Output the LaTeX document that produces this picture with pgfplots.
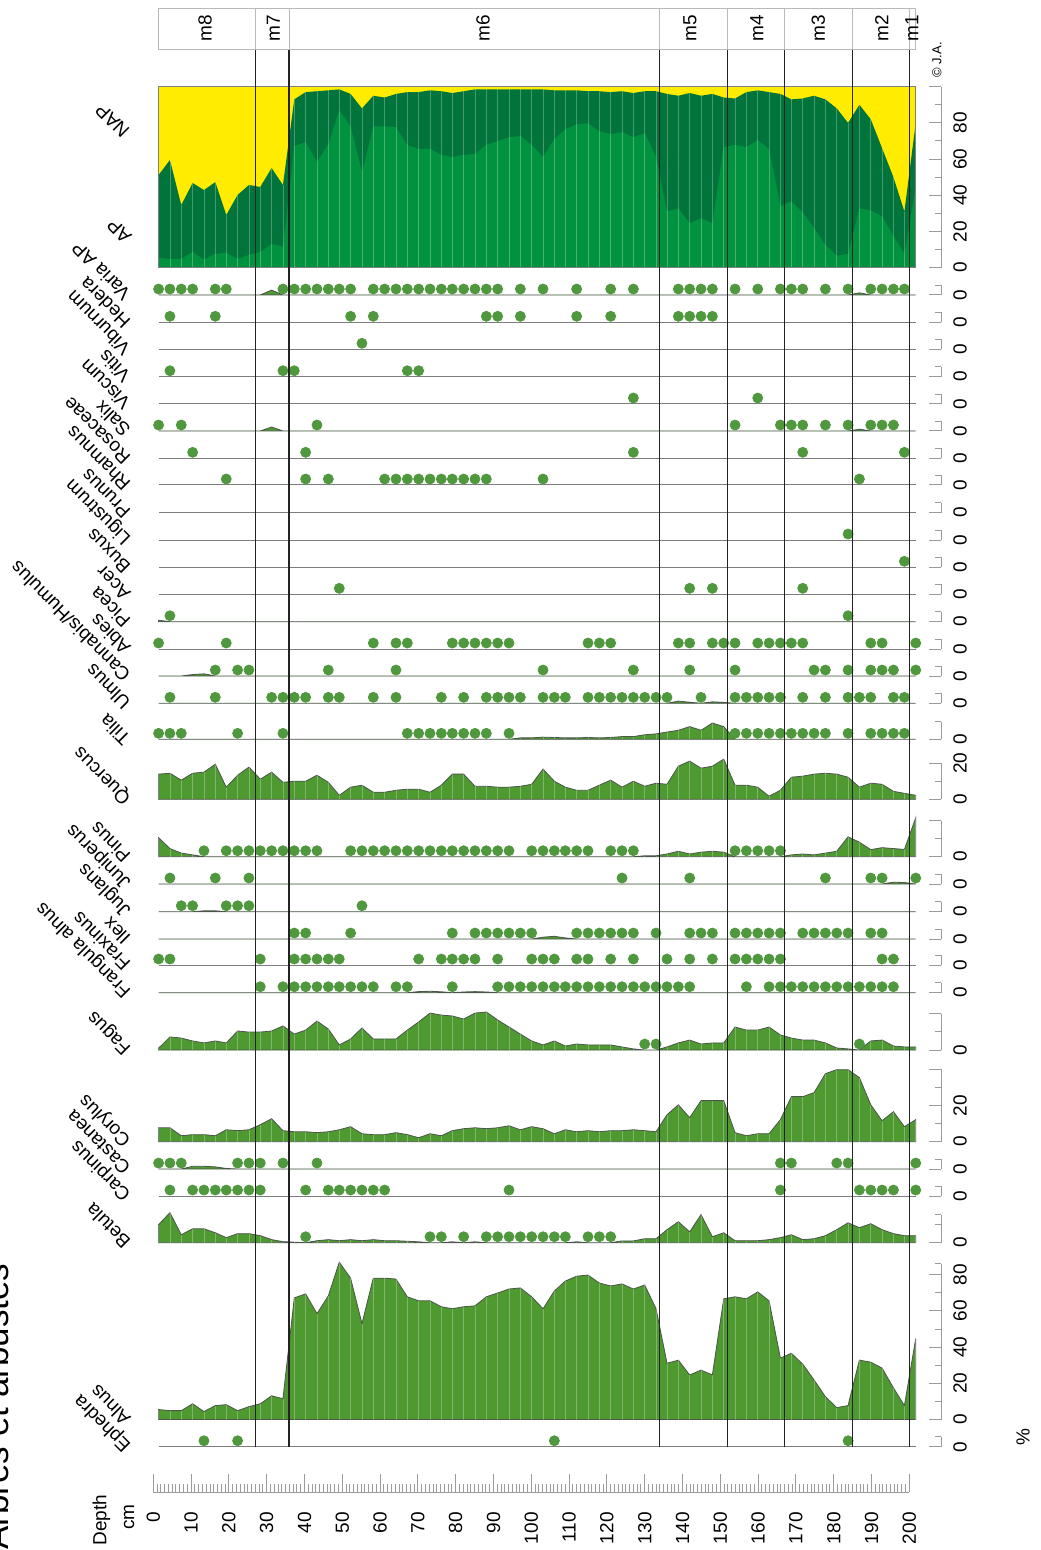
\documentclass[border=0pt]{standalone}
\usepackage{fontspec}
\setmainfont{Liberation Sans}
\usepackage{pgfplots}
\pgfplotsset{compat=1.18}
\usepackage{pgfplotstable}

\definecolor{areagreen}{RGB}{78,154,48}
\definecolor{dotgreen}{RGB}{80,152,62}
\definecolor{outline}{RGB}{75,85,75}
\definecolor{apdark}{RGB}{0,116,58}
\definecolor{aplight}{RGB}{0,146,62}
\definecolor{napyellow}{RGB}{255,236,0}
\definecolor{tickgray}{RGB}{155,155,155}
\definecolor{basegray}{RGB}{125,125,125}
\definecolor{zoneline}{RGB}{35,35,35}

\newcommand\ticklab{\fontsize{9.5}{11}\selectfont}
\newcommand\taxlab{\fontsize{9.5}{11}\selectfont}

\pgfplotstableread{
d ap alnus betula corylus fagus quercus pinus tilia varia salix cannabis ulmus juniperus juglans ilex frangula castanea picea
1.4 51.2 5.5 10 7.7 1 13.9 10.5 0 0 0 0 0 0 0 0 0 0 0.8
4.4 59.5 4.9 16.6 7.7 7.2 14.4 4.5 0 0 0 0 0 0 0 0 0 0 0
7.4 34.6 4.9 4.4 3.3 6.6 10.6 2 0 0 0 0 0 0 0 0 0 0 0
10.4 46.8 8.7 7.7 3.9 5 14.4 1 0 0 0 0.8 0 0 0 0 0 1.5 0
13.4 42.9 4.4 7.7 3.9 3.9 15 0 0 0 0 1.2 0 0 0.5 0 0 1.5 0
16.4 47.3 7.7 5.5 3.3 5 19.4 0 0 0 0 0 0 0 0.5 0 0 1.2 0
19.3 29.1 8.2 2.8 6.6 3.9 6.7 0 0 0 0 0 0 0 0 0 0 0.3 0
22.3 40.2 4.9 5 6.1 10.5 13.3 0 0 0 0 0 0 0 0 0 0 0 0
25.3 45.7 7.1 5 6.6 9.9 17.8 0 0 0 0 0 0 0 0 0 0 0 0
28.3 44.6 8.7 3.9 9.4 9.9 11.1 0 0 0 0 0 0 0 0 0 0 0 0
31.3 55.1 13.1 1.7 12.7 10.5 15 0 0 2.7 2.2 0 0 0 0 0 0 0 0
34.3 45.7 11.5 0.6 6.1 13.3 9.4 0 0 0 0 0 0 0 0 0 0 0 0
37.3 93 67.2 0.3 5.5 8.8 10 0 0 0 0 0 0 0 0 0 0 0 0
40.3 97 69.4 0 5.5 11 10 0 0 0 0 0 0 0 0 0 0 0 0
43.3 97.5 58.5 1.1 5 16 13.3 0 0 0 0 0 0 0 0 0 0 0 0
46.3 98 68.3 1.7 5.5 11.6 9.4 0 0 0 0 0 0 0 0 0 0 0 0
49.2 98.5 86.9 1.1 6.6 2.8 2.2 0 0 0 0 0 0 0 0 0 0 0 0
52.2 96 78.1 1.7 8.3 6.1 6.7 0 0 0 0 0 0 0 0 0 0 0 0
55.2 88 53 1.1 4.4 12.2 7.8 0 0 0 0 0 0 0 0 0 0 0 0
58.2 95 78.1 1.7 3.9 6.1 3.9 0 0 0 0 0 0 0 0 0 0 0 0
61.2 94 78.1 1.1 3.9 6.1 3.9 0 0 0 0 0 0 0 0 0 0 0 0
64.2 96 77.6 1.1 5 6.1 5 0 0 0 0 0 0 0 0 0 0 0 0
67.2 97 67.8 0.8 3.9 11 5.6 0 0 0 0 0 0 0 0 0 0 0 0
70.2 97 65.6 0.5 2.2 15.5 5.6 0 0 0 0 0 0 0 0 0 0.6 0 0
73.2 98 65.6 0 4.4 20.4 3.9 0 0 0 0 0 0 0 0 0 0.8 0 0
76.2 97.5 62.3 0 3.3 19.3 7.8 0 0 0 0 0 0 0 0 0 0.5 0 0
79.1 96.5 61.2 0.5 6.1 18.8 13.9 0 0 0 0 0 0 0 0 0 0 0 0
82.1 97.5 62.3 0 7.2 17.1 13.9 0 0 0 0 0 0 0 0 0 0.4 0 0
85.1 98.5 62.8 0.5 7.7 20.4 7.2 0 0 0 0 0 0 0 0 0 0.6 0 0
88.1 98.5 67.8 0 7.2 21 7.2 0 0 0 0 0 0 0 0 0 0.4 0 0
91.1 98.5 69.9 0 7.7 16.6 6.7 0 0 0 0 0 0 0 0 0 0 0 0
94.1 98.5 72.1 0 8.8 12.7 6.7 0 0 0 0 0 0 0 0 0 0 0 0
97.1 98.5 72.7 0 6.6 8.8 7.2 0 0.8 0 0 0 0 0 0 0 0 0 0
100.1 98.5 67.8 0 8.3 5 8.3 0 0.8 0 0 0 0 0 0 0 0 0 0
103.1 98.5 61.2 0 7.2 2.8 16.7 0 1.2 0 0 0 0 0 0 1 0 0 0
106.1 98 71 0 4.4 5 10 0 1 0 0 0 0 0 0 1.5 0 0 0
109.0 98 76.5 0 6.6 2.2 6.7 0 0.8 0 0 0 0 0 0 0.6 0 0 0
112.0 98 79.2 0.5 5.5 3.3 5 0 0.8 0 0 0 0 0 0 0 0 0 0
115.0 97.5 79.8 0 6.1 2.8 5 0 1 0 0 0 0 0 0 0 0 0 0
118.0 97.5 75.4 0 5.5 2.8 7.8 0 0.8 0 0 0 0 0 0 0 0 0 0
121.0 97 73.8 0 6.1 2.8 10.6 0 1 0 0 0 0 0 0 0 0 0 0
124.0 97.5 74.9 1 6.1 1.7 6.7 0 1.5 0 0 0 0 0 0 0 0 0 0
127.0 96.5 72.1 1 6.6 0.6 10 0 1.5 0 0 0 0 0 0 0 0 0 0
130.0 97.5 74.3 2.2 6.1 0 7.2 0.5 2.5 0 0 0 0 0 0 0 0 0 0
133.0 97.5 61.2 2.2 5.5 0 8.9 0.5 3 0 0 0 0 0 0 0 0 0 0
135.9 96 31.1 7.2 14.9 1.7 8.3 1.5 4 0 0 0 0 0 0 0 0 0 0
138.9 95 32.8 11.6 20.4 3.9 18.3 3 5 0 0 0 1.2 0 0 0 0 0 0
141.9 96.5 24.6 6 13.3 5.5 21.1 1.5 7 0 0 0 0.6 0 0 0 0 0 0
144.9 95 27.3 15.5 22.7 3.3 17.2 2.5 5 0 0 0 0 0 0 0 0 0 0
147.9 96 24.6 3.3 22.7 3.9 18.3 3 9 0 0 0 0.8 0 0 0 0 0 0
150.9 94 66.7 5.5 22.7 3.9 22.2 2.5 7 0 0 0 0.5 0 0 0 0 0 0
153.9 93.5 67.8 1.1 5 12.7 7.8 0 0 0 0 0 0 0 0 0 0 0 0
156.9 97 66.7 1.1 3.3 11 7.8 0 0 0 0 0 0 0 0 0 0 0 0
159.9 98 70.5 1.1 4.4 11 6.7 0 0 0 0 0 0 0 0 0 0 0 0
162.9 97 65.6 1.7 4.4 12.7 1.7 0 0 0 0 0 0 0 0 0 0 0 0
165.9 96 33.9 2.8 12.2 8.3 5 0 0 0 0 0 0 0 0 0 0 0 0
168.8 93 36.6 4.4 24.9 6.6 12.2 1 0 0 0 0 0 0 0 0 0 0 0
171.8 93.5 30.6 1.7 24.9 5.5 12.8 1.5 0 0 0 0 0 0 0 0 0 0 0
174.8 95 21.9 2.2 27.1 5.5 13.9 1 0 0 0 0 0 0 0 0 0 0 0
177.8 93 12.6 3.9 37.6 3.9 14.4 2 0 0 0 0 0 0 0 0 0 0 0
180.8 88 6.6 7.2 39.8 1.1 13.9 3 0 0 0 0 0 0 0 0 0 0 0
183.8 80 7.7 11 39.8 0.6 12.2 11 0 0 0 0 0 0 0 0 0 0 0
186.8 90 32.8 8.3 35.4 0 6.7 8 0 1.2 1 0 0 0 0 0 0 0 0
189.8 82 31.7 10.5 20.4 5 8.9 3.9 0 0 0 0 0 0 0 0 0 0 0
192.8 66 28.4 7.2 11.6 5.5 8.3 5 0 0 0 0 0 0 0 0 0 0 0
195.8 50 17.5 5 16.6 2.2 4.4 4.5 0 0 0 0 0 1 0 0 0 0 0
198.7 31 7.7 3.9 8.3 1.7 3.3 4 0 0 0 0 0 0.8 0 0 0 0 0
201.7 80 44.8 3.9 12.2 1.7 2.2 21.5 0 0 0 0 0 0 0 0 0 0 0
}\data

\pgfplotsset{
  panel/.style={
    anchor=south west, scale only axis, clip=false,
    x=1.89pt, y=0.905pt,
    xmin=0, xmax=208.4, ymin=0,
    axis x line=none,
    axis y line*=right,
    ytick pos=right, yticklabel pos=right,
    tick align=inside,
    y axis line style={draw=tickgray, line width=0.5pt},
    major tick length=6pt, minor tick length=3pt,
    every tick/.style={draw=tickgray, line width=0.5pt},
    /pgf/number format/assume math mode=true,
    yticklabel style={font=\ticklab, xshift=6pt, rotate=90, anchor=north, inner sep=0pt},
  },
  dotrow/.style={panel, ymax=5.5, ytick={0}, minor ytick={5.5}},
  dots/.style={only marks, color=dotgreen, mark=*, mark size=2.5pt, mark options={draw=none, fill=dotgreen}},
  area/.style={draw=outline, line width=0.4pt, fill=areagreen, mark=none},
  comb/.style={ycomb, draw=white, opacity=0.28, line width=0.3pt, mark=none},
  base/.style={draw=basegray, line width=0.5pt, mark=none},
}

\newcommand{\dotpanel}[2]{%
\begin{axis}[dotrow, at={(76.65pt,-#1pt)}]
\addplot[base] coordinates {(1.4,0) (201.7,0)};
\addplot[dots] coordinates {#2};
\end{axis}}

\newcommand{\dotcurve}[3]{%
\begin{axis}[dotrow, at={(76.65pt,-#1pt)}]
\addplot[area] table[x=d,y=#2]{\data} \closedcycle;
\addplot[dots] coordinates {#3};
\end{axis}}

\begin{document}
\begin{tikzpicture}
\path[use as bounding box] (0pt,0pt) rectangle (520pt,-775pt);

% ---------- AP / NAP ----------
\begin{axis}[panel, at={(76.65pt,-133.85pt)}, ymax=100,
  ytick={0,20,...,100}, yticklabels={0,20,40,60,80,{}}, minor ytick={10,30,...,90}]
\addplot[fill=napyellow, draw=none] coordinates {(1.4,100) (201.7,100)} \closedcycle;
\addplot[fill=apdark, draw=none] table[x=d,y=ap]{\data} \closedcycle;
\addplot[fill=aplight, draw=none] table[x=d,y=alnus]{\data} \closedcycle;
\addplot[comb] table[x=d,y=ap]{\data};
\addplot[draw=gray, line width=0.4pt] coordinates {(1.4,0) (1.4,100) (201.7,100) (201.7,0) (1.4,0)};
\end{axis}

% ---------- dot rows (top part) ----------
\dotcurve{147.5}{varia}{(1.4,3.3) (4.4,3.3) (7.4,3.3) (10.4,3.3) (16.4,3.3) (19.3,3.3) (34.3,3.3) (37.3,3.3) (40.3,3.3) (43.3,3.3) (46.3,3.3) (49.2,3.3) (52.2,3.3) (58.2,3.3) (61.2,3.3) (64.2,3.3) (67.2,3.3) (70.2,3.3) (73.2,3.3) (76.2,3.3) (79.1,3.3) (82.1,3.3) (85.1,3.3) (88.1,3.3) (91.1,3.3) (97.1,3.3) (103.1,3.3) (112.0,3.3) (121.0,3.3) (127.0,3.3) (138.9,3.3) (141.9,3.3) (144.9,3.3) (147.9,3.3) (153.9,3.3) (159.9,3.3) (165.9,3.3) (168.8,3.3) (171.8,3.3) (177.8,3.3) (183.8,3.3) (189.8,3.3) (192.8,3.3) (195.8,3.3) (198.7,3.3)}
\dotpanel{161.15}{(4.4,3.3) (16.4,3.3) (52.2,3.3) (58.2,3.3) (88.1,3.3) (91.1,3.3) (97.1,3.3) (112.0,3.3) (121.0,3.3) (138.9,3.3) (141.9,3.3) (144.9,3.3) (147.9,3.3)}
\dotpanel{174.65}{(55.2,3.3)}
\dotpanel{188.35}{(4.4,3.3) (34.3,3.3) (37.3,3.3) (67.2,3.3) (70.2,3.3)}
\dotpanel{202}{(127.0,3.3) (159.9,3.3)}
\dotcurve{215.5}{salix}{(1.4,3.3) (7.4,3.3) (43.3,3.3) (153.9,3.3) (165.9,3.3) (168.8,3.3) (171.8,3.3) (177.8,3.3) (183.8,3.3) (189.8,3.3) (192.8,3.3) (195.8,3.3)}
\dotpanel{229.15}{(10.4,3.3) (40.3,3.3) (127.0,3.3) (171.8,3.3) (198.7,3.3)}
\dotpanel{242.5}{(19.3,3.3) (40.3,3.3) (46.3,3.3) (61.2,3.3) (64.2,3.3) (67.2,3.3) (70.2,3.3) (73.2,3.3) (76.2,3.3) (79.1,3.3) (82.1,3.3) (85.1,3.3) (88.1,3.3) (103.1,3.3) (186.8,3.3)}
\begin{axis}[dotrow, at={(76.65pt,-256.35pt)}]
\addplot[base] coordinates {(1.4,0) (201.7,0)};
\end{axis}
\dotpanel{270}{(183.8,3.3)}
\dotpanel{283.65}{(198.7,3.3)}
\dotpanel{297.15}{(49.2,3.3) (141.9,3.3) (147.9,3.3) (171.8,3.3)}
\dotcurve{310.85}{picea}{(4.4,3.3) (183.8,3.3)}
\dotpanel{324.5}{(1.4,3.3) (19.3,3.3) (58.2,3.3) (64.2,3.3) (67.2,3.3) (79.1,3.3) (82.1,3.3) (85.1,3.3) (88.1,3.3) (91.1,3.3) (94.1,3.3) (115.0,3.3) (118.0,3.3) (121.0,3.3) (138.9,3.3) (141.9,3.3) (147.9,3.3) (150.9,3.3) (153.9,3.3) (159.9,3.3) (162.9,3.3) (165.9,3.3) (168.8,3.3) (171.8,3.3) (189.8,3.3) (192.8,3.3) (201.7,3.3)}
\dotcurve{338}{cannabis}{(16.4,3.3) (22.3,3.3) (25.3,3.3) (46.3,3.3) (64.2,3.3) (103.1,3.3) (127.0,3.3) (141.9,3.3) (153.9,3.3) (174.8,3.3) (177.8,3.3) (183.8,3.3) (189.8,3.3) (192.8,3.3) (195.8,3.3) (201.7,3.3)}
\dotcurve{351.65}{ulmus}{(4.4,3.3) (16.4,3.3) (31.3,3.3) (34.3,3.3) (37.3,3.3) (40.3,3.3) (46.3,3.3) (49.2,3.3) (58.2,3.3) (64.2,3.3) (76.2,3.3) (82.1,3.3) (88.1,3.3) (91.1,3.3) (94.1,3.3) (97.1,3.3) (103.1,3.3) (106.1,3.3) (109.0,3.3) (115.0,3.3) (118.0,3.3) (121.0,3.3) (124.0,3.3) (127.0,3.3) (130.0,3.3) (133.0,3.3) (135.9,3.3) (144.9,3.3) (153.9,3.3) (156.9,3.3) (159.9,3.3) (162.9,3.3) (165.9,3.3) (171.8,3.3) (177.8,3.3) (183.8,3.3) (186.8,3.3) (189.8,3.3) (195.8,3.3) (198.7,3.3)}

% ---------- Tilia ----------
\begin{axis}[panel, at={(76.65pt,-369.65pt)}, ymax=9.7, ytick={0}, minor ytick={9.7}]
\addplot[area] table[x=d,y=tilia]{\data} \closedcycle;
\addplot[comb] table[x=d,y=tilia]{\data};
\addplot[dots] coordinates {(1.4,3.3) (4.4,3.3) (7.4,3.3) (22.3,3.3) (34.3,3.3) (67.2,3.3) (70.2,3.3) (73.2,3.3) (76.2,3.3) (79.1,3.3) (82.1,3.3) (85.1,3.3) (88.1,3.3) (94.1,3.3) (153.9,3.3) (156.9,3.3) (159.9,3.3) (162.9,3.3) (165.9,3.3) (168.8,3.3) (171.8,3.3) (174.8,3.3) (177.8,3.3) (183.8,3.3) (189.8,3.3) (192.8,3.3) (195.8,3.3) (198.7,3.3)};
\end{axis}

% ---------- Quercus ----------
\begin{axis}[panel, at={(76.65pt,-399.65pt)}, ymax=20, ytick={0,20}, minor ytick={10}]
\addplot[area] table[x=d,y=quercus]{\data} \closedcycle;
\addplot[comb] table[x=d,y=quercus]{\data};
\end{axis}

% ---------- Pinus ----------
\begin{axis}[panel, at={(76.65pt,-428.35pt)}, ymax=20, ytick={0,20}, yticklabels={0,{}}, minor ytick={10}]
\addplot[area] table[x=d,y=pinus]{\data} \closedcycle;
\addplot[comb] table[x=d,y=pinus]{\data};
\addplot[dots] coordinates {(13.4,3.3) (19.3,3.3) (22.3,3.3) (25.3,3.3) (28.3,3.3) (31.3,3.3) (34.3,3.3) (37.3,3.3) (40.3,3.3) (43.3,3.3) (52.2,3.3) (55.2,3.3) (58.2,3.3) (61.2,3.3) (64.2,3.3) (67.2,3.3) (70.2,3.3) (73.2,3.3) (76.2,3.3) (79.1,3.3) (82.1,3.3) (85.1,3.3) (88.1,3.3) (91.1,3.3) (94.1,3.3) (100.1,3.3) (103.1,3.3) (106.1,3.3) (109.0,3.3) (112.0,3.3) (115.0,3.3) (121.0,3.3) (124.0,3.3) (127.0,3.3) (153.9,3.3) (156.9,3.3) (159.9,3.3) (162.9,3.3) (165.9,3.3)};
\end{axis}

\dotcurve{442}{juniperus}{(4.4,3.3) (16.4,3.3) (25.3,3.3) (124.0,3.3) (141.9,3.3) (177.8,3.3) (189.8,3.3) (192.8,3.3) (201.7,3.3)}
\dotcurve{455.85}{juglans}{(7.4,3.3) (10.4,3.3) (19.3,3.3) (22.3,3.3) (25.3,3.3) (55.2,3.3)}
\dotcurve{469.5}{ilex}{(37.3,3.3) (40.3,3.3) (52.2,3.3) (79.1,3.3) (85.1,3.3) (88.1,3.3) (91.1,3.3) (94.1,3.3) (97.1,3.3) (100.1,3.3) (112.0,3.3) (115.0,3.3) (118.0,3.3) (121.0,3.3) (124.0,3.3) (127.0,3.3) (133.0,3.3) (141.9,3.3) (144.9,3.3) (147.9,3.3) (153.9,3.3) (156.9,3.3) (159.9,3.3) (162.9,3.3) (165.9,3.3) (171.8,3.3) (174.8,3.3) (177.8,3.3) (180.8,3.3) (183.8,3.3) (189.8,3.3) (192.8,3.3)}
\dotpanel{482.5}{(1.4,3.3) (4.4,3.3) (28.3,3.3) (37.3,3.3) (40.3,3.3) (43.3,3.3) (46.3,3.3) (49.2,3.3) (70.2,3.3) (76.2,3.3) (79.1,3.3) (82.1,3.3) (85.1,3.3) (91.1,3.3) (100.1,3.3) (103.1,3.3) (106.1,3.3) (112.0,3.3) (115.0,3.3) (121.0,3.3) (127.0,3.3) (135.9,3.3) (141.9,3.3) (147.9,3.3) (153.9,3.3) (156.9,3.3) (159.9,3.3) (162.9,3.3) (165.9,3.3) (192.8,3.3) (195.8,3.3)}
\dotcurve{496.35}{frangula}{(28.3,3.3) (34.3,3.3) (37.3,3.3) (40.3,3.3) (43.3,3.3) (46.3,3.3) (49.2,3.3) (52.2,3.3) (55.2,3.3) (58.2,3.3) (64.2,3.3) (67.2,3.3) (79.1,3.3) (91.1,3.3) (94.1,3.3) (97.1,3.3) (100.1,3.3) (103.1,3.3) (106.1,3.3) (109.0,3.3) (112.0,3.3) (115.0,3.3) (118.0,3.3) (121.0,3.3) (124.0,3.3) (127.0,3.3) (130.0,3.3) (133.0,3.3) (135.9,3.3) (138.9,3.3) (141.9,3.3) (156.9,3.3) (162.9,3.3) (165.9,3.3) (168.8,3.3) (171.8,3.3) (174.8,3.3) (177.8,3.3) (180.8,3.3) (183.8,3.3) (186.8,3.3) (189.8,3.3) (192.8,3.3) (195.8,3.3)}

% ---------- Fagus ----------
\begin{axis}[panel, at={(76.65pt,-525pt)}, ymax=20, ytick={0,20}, yticklabels={0,{}}, minor ytick={10}]
\addplot[area] table[x=d,y=fagus]{\data} \closedcycle;
\addplot[comb] table[x=d,y=fagus]{\data};
\addplot[dots] coordinates {(130.0,3.3) (133.0,3.3) (186.8,3.3)};
\end{axis}

% ---------- Corylus ----------
\begin{axis}[panel, at={(76.65pt,-570.85pt)}, ymax=40, ytick={0,20,40}, yticklabels={0,20,{}}, minor ytick={10,30}]
\addplot[area] table[x=d,y=corylus]{\data} \closedcycle;
\addplot[comb] table[x=d,y=corylus]{\data};
\end{axis}

\dotcurve{584.5}{castanea}{(1.4,3.3) (4.4,3.3) (7.4,3.3) (22.3,3.3) (25.3,3.3) (28.3,3.3) (34.3,3.3) (43.3,3.3) (165.9,3.3) (168.8,3.3) (180.8,3.3) (183.8,3.3) (201.7,3.3)}
\dotpanel{598}{(4.4,3.3) (10.4,3.3) (13.4,3.3) (16.4,3.3) (19.3,3.3) (22.3,3.3) (25.3,3.3) (28.3,3.3) (40.3,3.3) (46.3,3.3) (49.2,3.3) (52.2,3.3) (55.2,3.3) (58.2,3.3) (61.2,3.3) (94.1,3.3) (165.9,3.3) (186.8,3.3) (189.8,3.3) (192.8,3.3) (195.8,3.3) (201.7,3.3)}

% ---------- Betula ----------
\begin{axis}[panel, at={(76.65pt,-621.35pt)}, ymax=15.5, ytick={0}, minor ytick={10,15.5}]
\addplot[area] table[x=d,y=betula]{\data} \closedcycle;
\addplot[comb] table[x=d,y=betula]{\data};
\addplot[dots] coordinates {(40.3,3.3) (73.2,3.3) (76.2,3.3) (82.1,3.3) (88.1,3.3) (91.1,3.3) (94.1,3.3) (97.1,3.3) (100.1,3.3) (103.1,3.3) (106.1,3.3) (109.0,3.3) (115.0,3.3) (118.0,3.3) (121.0,3.3)};
\end{axis}

% ---------- Alnus ----------
\begin{axis}[panel, at={(76.65pt,-709.75pt)}, ymax=86, ytick={0,20,...,80}, minor ytick={10,30,50,70,86}]
\addplot[area] table[x=d,y=alnus]{\data} \closedcycle;
\addplot[comb] table[x=d,y=alnus]{\data};
\end{axis}

\dotpanel{723.35}{(13.4,3.3) (22.3,3.3) (106.1,3.3) (183.8,3.3)}

% ---------- depth ruler ----------
\begin{axis}[anchor=south west, at={(76.65pt,-746pt)}, scale only axis, clip=false,
  x=1.89pt, y=1pt, xmin=0, xmax=200, ymin=0, ymax=1,
  axis y line=none, axis x line*=bottom, xtick pos=bottom,
  xtick={0,10,...,200}, minor x tick num=9, tick align=inside,
  major tick length=9pt, minor tick length=4pt,
  x axis line style={draw=tickgray, line width=0.5pt},
  every tick/.style={draw=tickgray, line width=0.5pt},
  /pgf/number format/assume math mode=true,
  xticklabel style={font=\ticklab, yshift=-10pt, rotate=90, anchor=east, inner sep=0pt}]
\addplot[draw=none] coordinates {(0,0) (200,0)};
\end{axis}

% ---------- pixel-space decorations ----------
\begin{scope}[x=0.5pt,y=-0.5pt]
% zone box
\draw[gray!55, line width=0.5pt] (158.3,8.3) rectangle (915,50);
\foreach \zx in {255.3,289,659.7,727.7,784.3,852.7,909.3} {
  \draw[gray!55, line width=0.5pt] (\zx,8.3) -- (\zx,50);
  \draw[zoneline, line width=0.6pt] (\zx,50) -- (\zx,1447);
}
\foreach \zx/\zl in {205/m8,273.3/m7,483/m6,690/m5,756.7/m4,818.3/m3,881.7/m2,911.7/m1}
  \node[rotate=90, font=\ticklab, inner sep=0pt] at (\zx,28) {\zl};

% taxa labels
\foreach \yy/\tt in {295/Varia AP,322.3/Hedera,349.3/Viburnum,376.7/Vitis,404/Viscum,431/Salix,458.3/Rosaceae,485/Rhamnus,512.7/Prunus,540/Ligustrum,567.3/Buxus,594.3/Acer,621.7/Picea,649/Abies,703.3/Ulmus,739.3/Tilia,799.3/Quercus,856.7/Pinus,884/Juniperus,911.7/Juglans,939/Ilex,965/Fraxinus,992.7/Frangula alnus,1050/Fagus,1141.7/Corylus,1169/Castanea,1196/Carpinus,1242.7/Betula,1419.5/Alnus,1446.7/Ephedra}
  \node[rotate=135, anchor=base west, inner sep=0pt, font=\taxlab] at (132,\yy-2) {\tt};
\node[rotate=135, anchor=base west, inner sep=0pt, font=\taxlab] at (132,674) {Cannabis/Humulus};
\node[rotate=135, anchor=base west, inner sep=0pt, font=\taxlab] at (133,236) {AP};
\node[rotate=135, anchor=base west, inner sep=0pt, font=\taxlab] at (131,130) {NAP};

% other texts
\node[rotate=90, anchor=base west, inner sep=0pt, font=\fontsize{17.5}{20}\selectfont] at (9,1550) {Arbres et arbustes};
\node[rotate=90, inner sep=0pt, font=\ticklab] at (101.5,1520) {Depth};
\node[rotate=90, inner sep=0pt, font=\ticklab] at (129,1517) {cm};
\node[rotate=90, inner sep=0pt, font=\ticklab] at (1023,1437) {\%};
\node[rotate=90, inner sep=0pt, font=\fontsize{6.5}{8}\selectfont] at (937,60) {© J.A.};
\end{scope}
\end{tikzpicture}
\end{document}
